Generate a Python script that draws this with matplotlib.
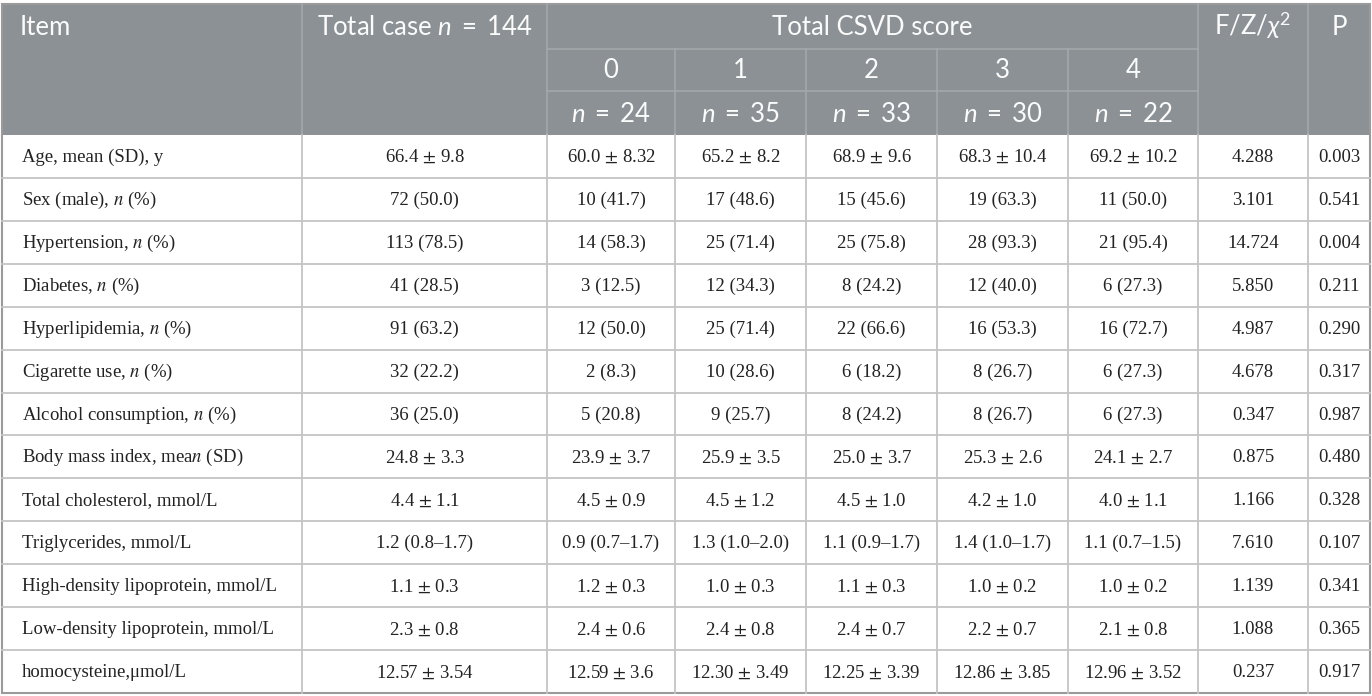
import matplotlib
matplotlib.use("Agg")
import matplotlib.pyplot as plt
from matplotlib.patches import Rectangle

plt.rcParams['mathtext.fontset'] = 'custom'
plt.rcParams['mathtext.rm'] = 'Lato'
plt.rcParams['mathtext.it'] = 'Lato:italic'

PM = r" $\pm$ "
EQ = "$n$ \u2009=\u2009 "

# table content
items = [
    "Age, mean (SD), y",
    "Sex (male), $n$ (%)",
    "Hypertension, $n$ (%)",
    "Diabetes, $n$ (%)",
    "Hyperlipidemia, $n$ (%)",
    "Cigarette use, $n$ (%)",
    "Alcohol consumption, $n$ (%)",
    "Body mass index, mea$n$ (SD)",
    "Total cholesterol, mmol/L",
    "Triglycerides, mmol/L",
    "High-density lipoprotein, mmol/L",
    "Low-density lipoprotein, mmol/L",
    "homocysteine,\u03bcmol/L",
]
total_case = ["66.4" + PM + "9.8", "72 (50.0)", "113 (78.5)", "41 (28.5)", "91 (63.2)",
              "32 (22.2)", "36 (25.0)", "24.8" + PM + "3.3", "4.4" + PM + "1.1",
              "1.2 (0.8\u20131.7)", "1.1" + PM + "0.3", "2.3" + PM + "0.8", "12.57" + PM + "3.54"]
score0 = ["60.0" + PM + "8.32", "10 (41.7)", "14 (58.3)", "3 (12.5)", "12 (50.0)",
          "2 (8.3)", "5 (20.8)", "23.9" + PM + "3.7", "4.5" + PM + "0.9",
          "0.9 (0.7\u20131.7)", "1.2" + PM + "0.3", "2.4" + PM + "0.6", "12.59" + PM + "3.6"]
score1 = ["65.2" + PM + "8.2", "17 (48.6)", "25 (71.4)", "12 (34.3)", "25 (71.4)",
          "10 (28.6)", "9 (25.7)", "25.9" + PM + "3.5", "4.5" + PM + "1.2",
          "1.3 (1.0\u20132.0)", "1.0" + PM + "0.3", "2.4" + PM + "0.8", "12.30" + PM + "3.49"]
score2 = ["68.9" + PM + "9.6", "15 (45.6)", "25 (75.8)", "8 (24.2)", "22 (66.6)",
          "6 (18.2)", "8 (24.2)", "25.0" + PM + "3.7", "4.5" + PM + "1.0",
          "1.1 (0.9\u20131.7)", "1.1" + PM + "0.3", "2.4" + PM + "0.7", "12.25" + PM + "3.39"]
score3 = ["68.3" + PM + "10.4", "19 (63.3)", "28 (93.3)", "12 (40.0)", "16 (53.3)",
          "8 (26.7)", "8 (26.7)", "25.3" + PM + "2.6", "4.2" + PM + "1.0",
          "1.4 (1.0\u20131.7)", "1.0" + PM + "0.2", "2.2" + PM + "0.7", "12.86" + PM + "3.85"]
score4 = ["69.2" + PM + "10.2", "11 (50.0)", "21 (95.4)", "6 (27.3)", "16 (72.7)",
          "6 (27.3)", "6 (27.3)", "24.1" + PM + "2.7", "4.0" + PM + "1.1",
          "1.1 (0.7\u20131.5)", "1.0" + PM + "0.2", "2.1" + PM + "0.8", "12.96" + PM + "3.52"]
stat = ["4.288", "3.101", "14.724", "5.850", "4.987", "4.678", "0.347",
        "0.875", "1.166", "7.610", "1.139", "1.088", "0.237"]
pval = ["0.003", "0.541", "0.004", "0.211", "0.290", "0.317", "0.987",
        "0.480", "0.328", "0.107", "0.341", "0.365", "0.917"]

score_labels = ["0", "1", "2", "3", "4"]
score_n = ["24", "35", "33", "30", "22"]

# layout (pixels)
col_x = [2, 302, 547, 675, 806, 937, 1068, 1198, 1308, 1370]
head_y = [4, 49, 91, 135]
row_bottom = 693
n_rows = len(items)
row_h = (row_bottom - head_y[-1]) / n_rows

header_bg = "#8b9194"
header_line = "#a3a8aa"
grid = "#c4c4c4"
border = "#9a9a9a"

fig = plt.figure(figsize=(13.72, 6.96), dpi=100)
ax = fig.add_axes([0, 0, 1, 1])
ax.set_xlim(0, 1372)
ax.set_ylim(696, 0)
ax.axis('off')

# header block
ax.add_patch(Rectangle((col_x[0], head_y[0]), col_x[-1] - col_x[0], head_y[-1] - head_y[0],
                       facecolor=header_bg, edgecolor='none'))
for x in [col_x[1], col_x[2], col_x[7], col_x[8]]:
    ax.plot([x, x], [head_y[0], head_y[-1]], color=header_line, lw=1.2)
for x in col_x[3:7]:
    ax.plot([x, x], [head_y[1], head_y[-1]], color=header_line, lw=1.2)
for y in head_y[1:3]:
    ax.plot([col_x[2], col_x[7]], [y, y], color=header_line, lw=1.2)

hfont = dict(family=['Lato', 'DejaVu Sans'], color='#fbfbfb', fontsize=18.5, va='center')
ycen = [(head_y[i] + head_y[i + 1]) / 2 + 1 for i in range(3)]
ax.text(20, ycen[0], "Item", ha='left', **hfont)
ax.text((col_x[1] + col_x[2]) / 2, ycen[0], "Total case " + EQ + "144", ha='center', **hfont)
ax.text((col_x[2] + col_x[7]) / 2, ycen[0], "Total CSVD score", ha='center', **hfont)
ax.text((col_x[7] + col_x[8]) / 2, ycen[0] - 2, r"F/Z/$\chi^2$", ha='center', **hfont)
ax.text((col_x[8] + col_x[9]) / 2, ycen[0], "P", ha='center', **hfont)
for i in range(5):
    cx = (col_x[2 + i] + col_x[3 + i]) / 2
    ax.text(cx, ycen[1], score_labels[i], ha='center', **hfont)
    ax.text(cx, ycen[2], EQ + score_n[i], ha='center', **hfont)

# body rows
columns = [total_case, score0, score1, score2, score3, score4, stat, pval]
dfont = dict(family='Liberation Serif', color='#222222', fontsize=13.5, va='center',
             math_fontfamily='stix')
for r in range(n_rows):
    y0 = head_y[-1] + r * row_h
    yc = y0 + row_h / 2 + 1
    ax.text(22, yc, items[r], ha='left', **dfont)
    for c, vals in enumerate(columns):
        ax.text((col_x[1 + c] + col_x[2 + c]) / 2, yc, vals[r], ha='center', **dfont)
    if r > 0:
        ax.plot([col_x[0], col_x[-1]], [y0, y0], color=grid, lw=1.3)

for x in col_x[1:-1]:
    ax.plot([x, x], [head_y[-1], row_bottom], color=grid, lw=1.3)

# outer border
ax.add_patch(Rectangle((col_x[0], head_y[0]), col_x[-1] - col_x[0], row_bottom - head_y[0],
                       facecolor='none', edgecolor=border, lw=1.5))

fig.savefig("out.png", dpi=100)
